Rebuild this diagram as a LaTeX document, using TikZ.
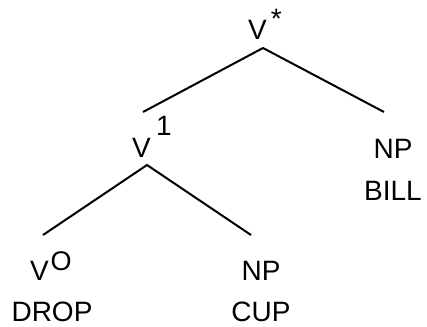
\documentclass[tikz,border=0pt]{standalone}
\usepackage{fontspec}
\setmainfont{Liberation Sans}
\begin{document}
\begin{tikzpicture}[x=1pt,y=-1pt,
  lbl/.style={font=\fontsize{28}{30}\selectfont, inner sep=0pt, anchor=base},
  branch/.style={line width=2pt, line cap=butt}]
\useasboundingbox (0,0) rectangle (427,326);
% labels
\node[lbl, anchor=base west] (vstar) at (248,39.5) {V\hspace{4pt}\raisebox{10.5pt}{\fontsize{28}{28}\selectfont *}};
\node[lbl, anchor=base west] (vone) at (132,157) {V\hspace{5.3pt}\raisebox{22pt}{\fontsize{28}{28}\selectfont 1}};
\node[lbl, anchor=base west] (vzero) at (30,280) {V\hspace{1.7pt}\raisebox{10pt}{\fontsize{27}{27}\selectfont O}};
\node[lbl] (drop) at (52,321.5) {DROP};
\node[lbl] (npcup) at (261,280) {NP};
\node[lbl] (cup) at (261,321.5) {CUP};
\node[lbl] (npbill) at (393,158) {NP};
\node[lbl] (bill) at (393,200) {BILL};
% branch points
\coordinate (top) at (263,48);
\coordinate (topL) at (143,112);
\coordinate (topR) at (384,112);
\coordinate (mid) at (147,165);
\coordinate (midL) at (43,235);
\coordinate (midR) at (251,235);
\draw[branch] (topL) -- (top) -- (topR);
\draw[branch] (midL) -- (mid) -- (midR);
\end{tikzpicture}
\end{document}
